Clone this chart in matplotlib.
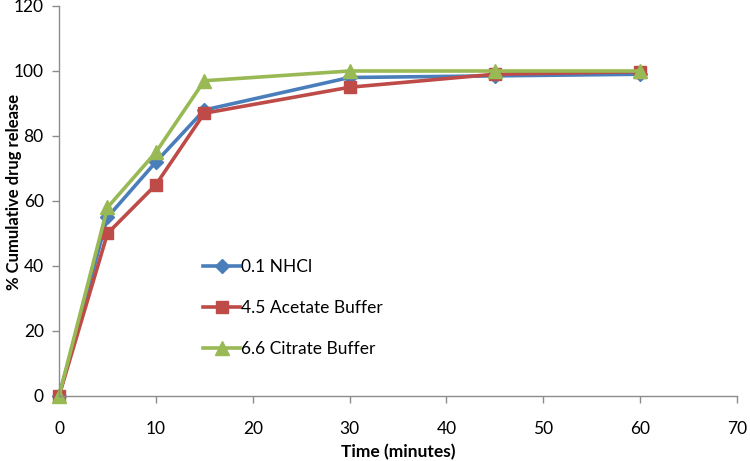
import matplotlib
matplotlib.use("Agg")
import matplotlib.pyplot as plt

plt.rcParams['font.family'] = ['Lato', 'DejaVu Sans']

# dissolution data (time in minutes, % cumulative release)
time_min = [0, 5, 10, 15, 30, 45, 60]
nhcl = [0, 55, 72, 88, 98, 98.5, 99]
acetate = [0, 50, 65, 87, 95, 99, 99.8]
citrate = [0, 58, 75, 97, 100, 100, 100]

labels = ["0.1 NHCl", "4.5 Acetate Buffer", "6.6 Citrate Buffer"]
x_ticks = [0, 10, 20, 30, 40, 50, 60, 70]
y_ticks = [0, 20, 40, 60, 80, 100, 120]

fig = plt.figure(figsize=(7.5, 4.61), dpi=100)
ax = fig.add_axes([0.0787, 0.141, 0.904, 0.846])

ax.plot(time_min, nhcl, color='#4A7EBB', lw=2.6, marker='D', ms=7, label=labels[0])
ax.plot(time_min, acetate, color='#BE4B48', lw=2.6, marker='s', ms=9, label=labels[1])
ax.plot(time_min, citrate, color='#98B954', lw=2.6, marker='^', ms=10, label=labels[2])

ax.set_xlim(0, 70)
ax.set_ylim(0, 120)
ax.set_xticks(x_ticks)
ax.set_yticks(y_ticks)
for s in ['top', 'right']:
    ax.spines[s].set_visible(False)
for s in ['left', 'bottom']:
    ax.spines[s].set_color('#8c8c8c')
    ax.spines[s].set_linewidth(1.0)
ax.tick_params(colors='#8c8c8c', labelcolor='black', labelsize=12.5, length=5, width=1)
ax.tick_params(axis='x', pad=13)
ax.tick_params(axis='y', pad=6)

ax.set_xlabel("Time (minutes)", fontsize=12.5, fontweight='bold', va='center')
ax.xaxis.set_label_coords(0.5, -0.144)
ax.set_ylabel("% Cumulative drug release", fontsize=12, fontweight='bold', va='center')
ax.yaxis.set_label_coords(-0.066, 0.523)

ax.legend(loc='center left', bbox_to_anchor=(0.19, 0.226), frameon=False,
          fontsize=12.5, labelspacing=1.45, handlelength=2.1, handletextpad=0.05)

for l in ax.get_lines():
    l.set_clip_on(False)

fig.savefig("out.png", dpi=100)
